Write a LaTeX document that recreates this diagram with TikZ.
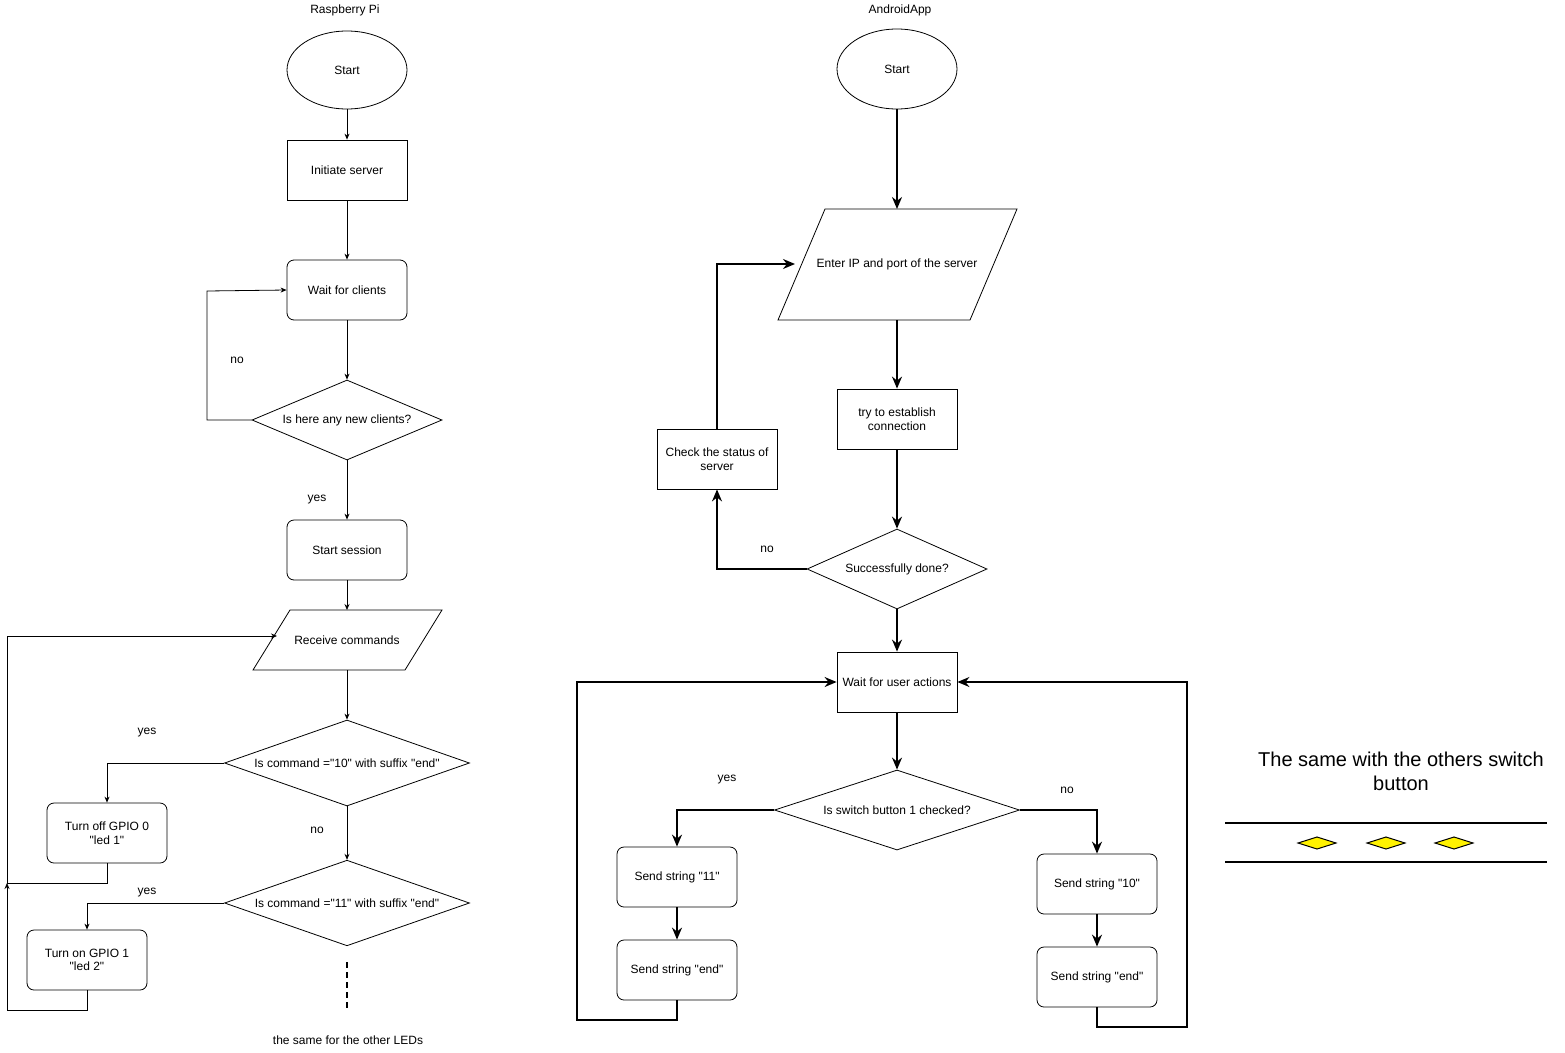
\documentclass[tikz,border=0pt]{standalone}
\usepackage{fontspec}
\setmainfont{Liberation Sans}
\usetikzlibrary{shapes.geometric,arrows.meta}
\newcommand{\qq}{\textquotedbl}
\begin{document}
\begin{tikzpicture}[x=1pt,y=-1pt,font=\fontsize{12}{13.5}\selectfont,
  every path/.style={line width=0.8pt},
  box/.style={draw,minimum width=120pt,minimum height=60pt,align=center,inner sep=1pt},
  rbox/.style={box,rounded corners=7pt},
  ell/.style={draw,ellipse,minimum width=120pt,minimum height=78pt},
  dia/.style={draw,diamond,aspect=2.4,inner sep=0pt},
  thin/.style={-{Stealth[length=6pt,width=5pt]},line width=0.8pt},
  thick/.style={-{Stealth[length=12pt,width=10pt]},line width=1.6pt},
  lbl/.style={inner sep=0pt}]
\useasboundingbox (0,0) rectangle (1565,1052);
% ---- left
\node[lbl] (t1) at (345,10) {Raspberry Pi};
\node[ell] (s1) at (347,70) {Start};
\node[box] (init) at (347,170) {Initiate server};
\node[rbox] (wait) at (347,290) {Wait for clients};
\node[dia,minimum width=190pt,minimum height=80pt] (d1) at (347,420) {Is here any new clients?};
\node[rbox] (sess) at (347,550) {Start session};
\draw (253,670) -- (290,610) -- (442,610) -- (405,670) -- cycle;
\node[lbl,minimum width=150pt,minimum height=60pt] (recv) at (347,640) {Receive commands};
\node[dia,minimum width=245pt,minimum height=80pt] (d2) at (347,763) {Is command =\qq10\qq{} with suffix \qq end\qq};
\node[rbox] (off) at (107,833) {Turn off GPIO 0\\\qq led 1\qq};
\node[dia,minimum width=245pt,minimum height=80pt] (d3) at (347,903) {Is command =\qq11\qq{} with suffix \qq end\qq};
\node[rbox] (on) at (87,960) {Turn on GPIO 1\\\qq led 2\qq};
\coordinate (da) at (347,962); \coordinate (db) at (347,1010);
\draw[dashed,line width=1.4pt,dash pattern=on 6pt off 4pt] (da) -- (db);
\node[lbl] at (348,1040) {the same for the other LEDs};
\node[lbl] at (237,360) {no};
\node[lbl] at (317,500) {yes};
\node[lbl] at (147,733) {yes};
\node[lbl] at (317,830) {no};
\node[lbl] at (147,893) {yes};
\draw[thin] (s1) -- (init);
\draw[thin] (init) -- (wait);
\draw[thin] (wait) -- (d1);
\draw[thin] (d1.west) -- (207,420) -- (207,291) -- (wait.west);
\draw[thin] (d1) -- (sess);
\draw[thin] (sess) -- (347,610);
\draw[thin] (347,670) -- (d2.north);
\draw[thin] (d2.west) -| (off.north);
\draw[thin] (d2) -- (d3);
\draw[thin] (d3.west) -| (on.north);
\coordinate (j) at (7,883);
\draw (off.south) |- (j);
\draw[thin] (on.south) |- (7,1010) -- (j);
\draw[thin] (j) -- (7,636) -- (277,636);
% ---- right
\node[lbl] (t2) at (900,10) {AndroidApp};
\node[ell,minimum height=80pt] (s2) at (897,69) {Start};
\draw (778,320) -- (825,209) -- (1017,209) -- (970,320) -- cycle;
\node[lbl] (ip) at (897,264) {Enter IP and port of the server};
\node[box] (try) at (897,419) {try to establish\\connection};
\node[box] (chk) at (717,459) {Check the status of\\server};
\node[dia,minimum width=180pt,minimum height=80pt] (d4) at (897,569) {Successfully done?};
\node[box] (wu) at (897,682) {Wait for user actions};
\node[dia,minimum width=245pt,minimum height=80pt] (d5) at (897,810) {Is switch button 1 checked?};
\node[rbox] (s11) at (677,877) {Send string \qq11\qq};
\node[rbox] (e1) at (677,970) {Send string \qq end\qq};
\node[rbox] (s10) at (1097,884) {Send string \qq10\qq};
\node[rbox] (e2) at (1097,977) {Send string \qq end\qq};
\node[lbl] at (767,549) {no};
\node[lbl] at (727,780) {yes};
\node[lbl] at (1067,790) {no};
\draw[thick] (s2) -- (897,209);
\draw[thick] (897,320) -- (try);
\draw[thick] (try) -- (d4.north);
\draw[thick] (d4) -- (wu);
\draw[thick] (d4.west) -| (chk.south);
\draw[thick] (chk.north) |- (795,264);
\draw[thick] (wu) -- (d5.north);
\draw[thick] (d5.west) -| (s11.north);
\draw[thick] (s11) -- (e1);
\draw[thick] (e1.south) |- (577,1020) |- (wu.west);
\draw[thick] (d5.east) -| (s10.north);
\draw[thick] (s10) -- (e2);
\draw[thick] (e2.south) |- (1187,1027) |- (wu.east);
% ---- legend
\node[align=center,font=\fontsize{20}{24}\selectfont] (leg) at (1401,771) {The same with the others switch\\button};
\draw[line width=1.6pt] (1225,823) -- (1547,823);
\draw[line width=1.6pt] (1225,862) -- (1547,862);
\foreach \xx in {1317,1386,1454}
  \draw[fill=yellow,line width=1pt] (\xx-19,843) -- (\xx,837) -- (\xx+19,843) -- (\xx,849) -- cycle;
\end{tikzpicture}
\end{document}
